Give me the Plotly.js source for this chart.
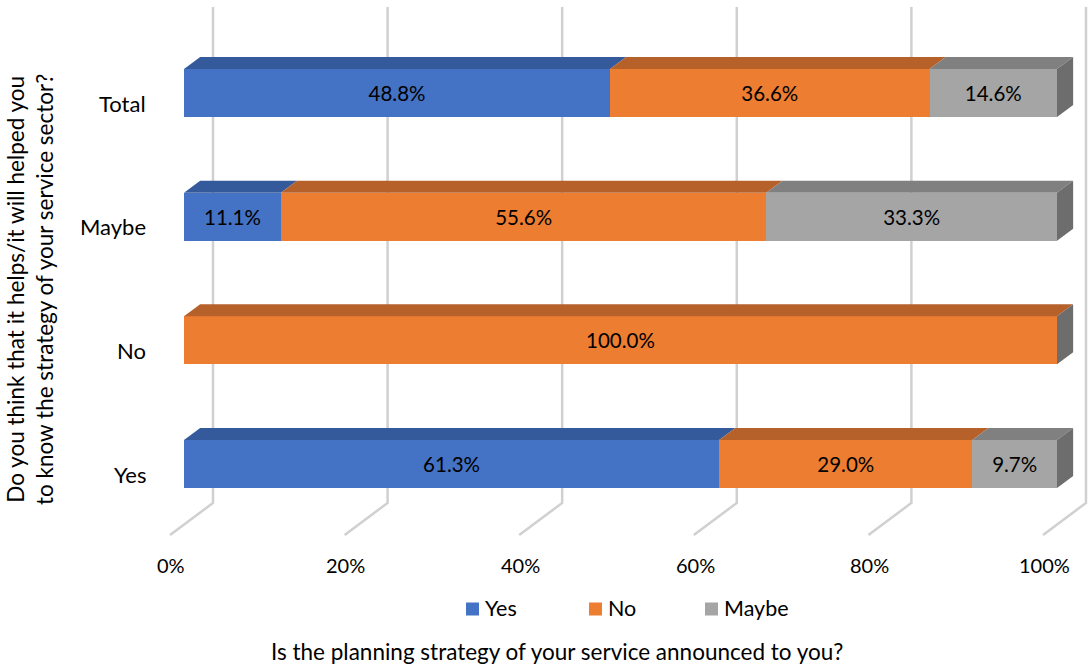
<!DOCTYPE html>
<html>
<head>
<meta charset="utf-8">
<script src="https://cdn.plot.ly/plotly-3.0.1.min.js"></script>
<style>html,body{margin:0;padding:0;background:#fff;}#chart{width:1089px;height:665px;}</style>
</head>
<body>
<div id="chart"></div>
<script>
// ---- data ----
const categories = ['Yes', 'No', 'Maybe', 'Total'];          // bottom to top
const seriesNames = ['Yes', 'No', 'Maybe'];
const yesValues = [61.3, 0, 11.1, 48.8];
const noValues = [29.0, 100.0, 55.6, 36.6];
const maybeValues = [9.7, 0, 33.3, 14.6];
const tickValues = [0, 20, 40, 60, 80, 100];
const tickLabels = ['0%', '20%', '40%', '60%', '80%', '100%'];
const xAxisTitle = 'Is the planning strategy of your service announced to you?';
const yAxisTitle = 'Do you think that it helps/it will helped you<br>to know the strategy of your service sector?';

// ---- styles ----
const frontColors = ['#4472C4', '#ED7D31', '#A5A5A5'];
const topColors = ['#345A9B', '#B6602A', '#808080'];
const sideColors = ['#2A4A80', '#9A4F1F', '#6D6D6D'];
const FONT = 'Lato, "Open Sans", sans-serif';
const barWidth = 0.388;
const depthX = 1.85, depthY = 0.097;            // 3D depth offset (axis units)
const wallX = 3.32;                               // back-wall offset of gridlines
const gridTop = 3.695, gridBottom = -0.315, floorFrontX = -1.6, floorFrontY = -0.574;
const legendPx = [466, 589, 705];                 // legend swatch left edges (px)

const seriesValues = [yesValues, noValues, maybeValues];
const yIdx = categories.map((c, i) => i);

const traces = seriesNames.map((name, s) => ({
  type: 'bar', orientation: 'h', name: name,
  x: seriesValues[s], y: yIdx, width: barWidth,
  marker: {color: frontColors[s], line: {width: 0}},
  text: seriesValues[s].map(v => v > 0 ? v.toFixed(1) + '%' : ''),
  textposition: 'inside', insidetextanchor: 'middle', constraintext: 'none',
  textfont: {family: FONT, size: 20.5, color: '#000'},
  hoverinfo: 'skip', showlegend: false, cliponaxis: false
}));

const shapes = [];
// gridlines: back wall vertical + floor slant
tickValues.forEach(v => {
  const xb = v + wallX;
  shapes.push({type: 'path', xref: 'x', yref: 'y', layer: 'below',
    path: `M${xb},${gridTop} L${xb},${gridBottom} L${v + floorFrontX},${floorFrontY}`,
    line: {color: '#D0D0D0', width: 2.5}});
});
// top faces and side faces
yIdx.forEach(i => {
  const yt = i + barWidth / 2, yb = i - barWidth / 2;
  let start = 0;
  seriesValues.forEach((vals, s) => {
    const v = vals[i];
    if (v > 0) {
      const x0 = start, x1 = start + v;
      shapes.push({type: 'path', xref: 'x', yref: 'y', layer: 'above',
        path: `M${x0},${yt} L${x1},${yt} L${x1 + depthX},${yt + depthY} L${x0 + depthX},${yt + depthY} Z`,
        fillcolor: topColors[s], line: {width: 0}});
    }
    start += v;
  });
  const last = seriesNames.length - 1;
  shapes.push({type: 'path', xref: 'x', yref: 'y', layer: 'above',
    path: `M${start},${yb} L${start},${yt} L${start + depthX},${yt + depthY} L${start + depthX},${yb + depthY} Z`,
    fillcolor: sideColors[last], line: {width: 0}});
});
// legend swatches
seriesNames.forEach((n, s) => {
  shapes.push({type: 'rect', xref: 'paper', yref: 'paper', xsizemode: 'pixel', ysizemode: 'pixel',
    xanchor: (legendPx[s] - 150) / 939, yanchor: (545 - 609) / 545,
    x0: 0, x1: 13, y0: -6.5, y1: 6.5, fillcolor: frontColors[s], line: {width: 0}});
});

const annotations = [];
tickValues.forEach((v, k) => {
  annotations.push({xref: 'x', yref: 'paper', x: v - 1.45, y: (545 - 565) / 545,
    text: tickLabels[k], showarrow: false, xanchor: 'center', yanchor: 'middle',
    font: {family: FONT, size: 20, color: '#000'}});
});
categories.forEach((c, i) => {
  annotations.push({xref: 'paper', yref: 'y', x: -0.002, y: i - 0.081,
    text: c, showarrow: false, xanchor: 'right', yanchor: 'middle',
    font: {family: FONT, size: 22, color: '#000'}});
});
seriesNames.forEach((n, s) => {
  annotations.push({xref: 'paper', yref: 'paper', x: (legendPx[s] + 17 - 150) / 939, y: (545 - 608) / 545,
    text: n, showarrow: false, xanchor: 'left', yanchor: 'middle',
    font: {family: FONT, size: 21.5, color: '#000'}});
});
annotations.push({xref: 'paper', yref: 'paper', x: (557 - 150) / 939, y: (545 - 651) / 545,
  text: xAxisTitle, showarrow: false, xanchor: 'center', yanchor: 'middle',
  font: {family: FONT, size: 22.5, color: '#000'}});
annotations.push({xref: 'paper', yref: 'paper', x: (30 - 150) / 939, y: (545 - 290) / 545,
  text: yAxisTitle, showarrow: false, xanchor: 'center', yanchor: 'middle', textangle: -90,
  font: {family: FONT, size: 22.5, color: '#000'}});

const layout = {
  width: 1089, height: 665,
  margin: {l: 150, r: 0, t: 0, b: 120},
  paper_bgcolor: '#fff', plot_bgcolor: 'rgba(0,0,0,0)',
  barmode: 'stack', showlegend: false,
  xaxis: {range: [-3.895, 103.666], showgrid: false, zeroline: false, showticklabels: false, showline: false, fixedrange: true},
  yaxis: {range: [-0.655, 3.752], showgrid: false, zeroline: false, showticklabels: false, showline: false, fixedrange: true},
  shapes: shapes, annotations: annotations
};

Plotly.newPlot('chart', traces, layout, {displayModeBar: false, staticPlot: true});
</script>
</body>
</html>
